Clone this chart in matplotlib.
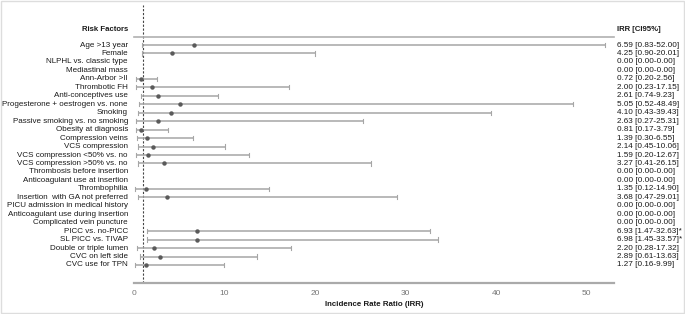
import numpy as np
import matplotlib
matplotlib.use("Agg")
import matplotlib.pyplot as plt
from matplotlib.patches import Rectangle

factors = [
    "Age >13 year", "Female", "NLPHL vs. classic type", "Mediastinal mass",
    "Ann-Arbor >II", "Thrombotic FH", "Anti-conceptives use",
    "Progesterone + oestrogen vs. none", "Smoking", "Passive smoking vs. no smoking",
    "Obesity at diagnosis", "Compression veins", "VCS compression",
    "VCS compression <50% vs. no", "VCS compression >50% vs. no",
    "Thrombosis before insertion", "Anticoagulant use at insertion",
    "Thrombophilia", "Insertion  with GA not preferred",
    "PICU admission in medical history", "Anticoagulant use during insertion",
    "Complicated vein puncture", "PICC vs. no-PICC", "SL PICC vs. TIVAP",
    "Double or triple lumen", "CVC on left side", "CVC use for TPN",
]
irr = [6.59, 4.25, 0.00, 0.00, 0.72, 2.00, 2.61, 5.05, 4.10, 2.63, 0.81, 1.39, 2.14,
       1.59, 3.27, 0.00, 0.00, 1.35, 3.68, 0.00, 0.00, 0.00, 6.93, 6.98, 2.20, 2.89, 1.27]
lower = [0.83, 0.90, 0.00, 0.00, 0.20, 0.23, 0.74, 0.52, 0.43, 0.27, 0.17, 0.30, 0.45,
         0.20, 0.41, 0.00, 0.00, 0.12, 0.47, 0.00, 0.00, 0.00, 1.47, 1.45, 0.28, 0.61, 0.16]
upper = [52.00, 20.01, 0.00, 0.00, 2.56, 17.15, 9.23, 48.49, 39.43, 25.31, 3.79, 6.55, 10.06,
         12.67, 26.15, 0.00, 0.00, 14.90, 29.01, 0.00, 0.00, 0.00, 32.63, 33.57, 17.32, 13.63, 9.99]
significant = [False] * 22 + [True, True] + [False] * 3
xticks = [0, 10, 20, 30, 40, 50]

W, H = 685, 314
fig = plt.figure(figsize=(W / 100, H / 100), dpi=100)
plt.rcParams['font.family'] = ['Liberation Sans', 'DejaVu Sans']

# figure border
fig.patches.append(Rectangle((0.001, 0.002), 0.997, 0.995, transform=fig.transFigure,
                             fill=False, edgecolor='#dddddd', linewidth=1.0))

ax_left, ax_right = 134 / W, 614 / W
ax_top, ax_bot = 1 - 5 / H, 1 - 283 / H
ax = fig.add_axes([ax_left, ax_bot, ax_right - ax_left, ax_top - ax_bot])

n = len(factors)
row_px = 8.46
top_rows = (45 - 5) / row_px
bot_rows = (283 - 265) / row_px
ax.set_ylim(n - 1 + bot_rows, -top_rows)
ax.set_xlim(0, 53)

ys = np.arange(n)
line_col = '#a6a6a6'
for i in range(n):
    if upper[i] <= 0:
        continue
    ax.plot([lower[i], upper[i]], [ys[i], ys[i]], color=line_col, lw=1.1,
            solid_capstyle='butt', zorder=2)
    for xv in (lower[i], upper[i]):
        ax.plot([xv, xv], [ys[i] - 0.25, ys[i] + 0.25], color=line_col, lw=0.8, zorder=2)
    ax.plot(irr[i], ys[i], 'o', color='#5a5a5a', ms=3.2, mew=0, zorder=3)

# reference line at 1
ax.axvline(1, color='#444444', lw=0.8, ls=(0, (2, 1.5)), zorder=1)

# header line
header_line_y = -(45 - 37) / row_px
ax.plot([0, 53], [header_line_y, header_line_y], color='#b0b0b0', lw=1.2,
        clip_on=False, zorder=1)

fs_lab = 5.8
fs_val = 5.85
trans_lab = matplotlib.transforms.blended_transform_factory(fig.transFigure, ax.transData)
for i in range(n):
    fig.text(128 / W, ys[i], factors[i], transform=trans_lab, ha='right', va='center',
             fontsize=fs_lab, color='#1a1a1a')
    star = '*' if significant[i] else ''
    fig.text(617 / W, ys[i], f"{irr[i]:.2f} [{lower[i]:.2f}-{upper[i]:.2f}]{star}",
             transform=trans_lab, ha='left', va='center', fontsize=fs_val,
             color='#1a1a1a')

header_y = -(45 - 29) / row_px
fig.text(128 / W, header_y, "Risk Factors", transform=trans_lab, ha='right', va='center',
         fontsize=5.6, fontweight='bold', color='#1a1a1a')
fig.text(617 / W, header_y, "IRR [CI95%]", transform=trans_lab, ha='left', va='center',
         fontsize=5.6, fontweight='bold', color='#1a1a1a')

for s in ['top', 'right', 'left']:
    ax.spines[s].set_visible(False)
ax.spines['bottom'].set_color('#aaaaaa')
ax.spines['bottom'].set_linewidth(1.6)
ax.set_yticks([])
ax.set_xticks(xticks)
ax.tick_params(axis='x', length=0, pad=5, labelsize=6, labelcolor='#777777')
ax.set_xlabel("Incidence Rate Ratio (IRR)", fontsize=5.7, fontweight='bold',
              color='#1a1a1a', labelpad=3)
ax.patch.set_alpha(0)

fig.savefig("out.png", dpi=100)
